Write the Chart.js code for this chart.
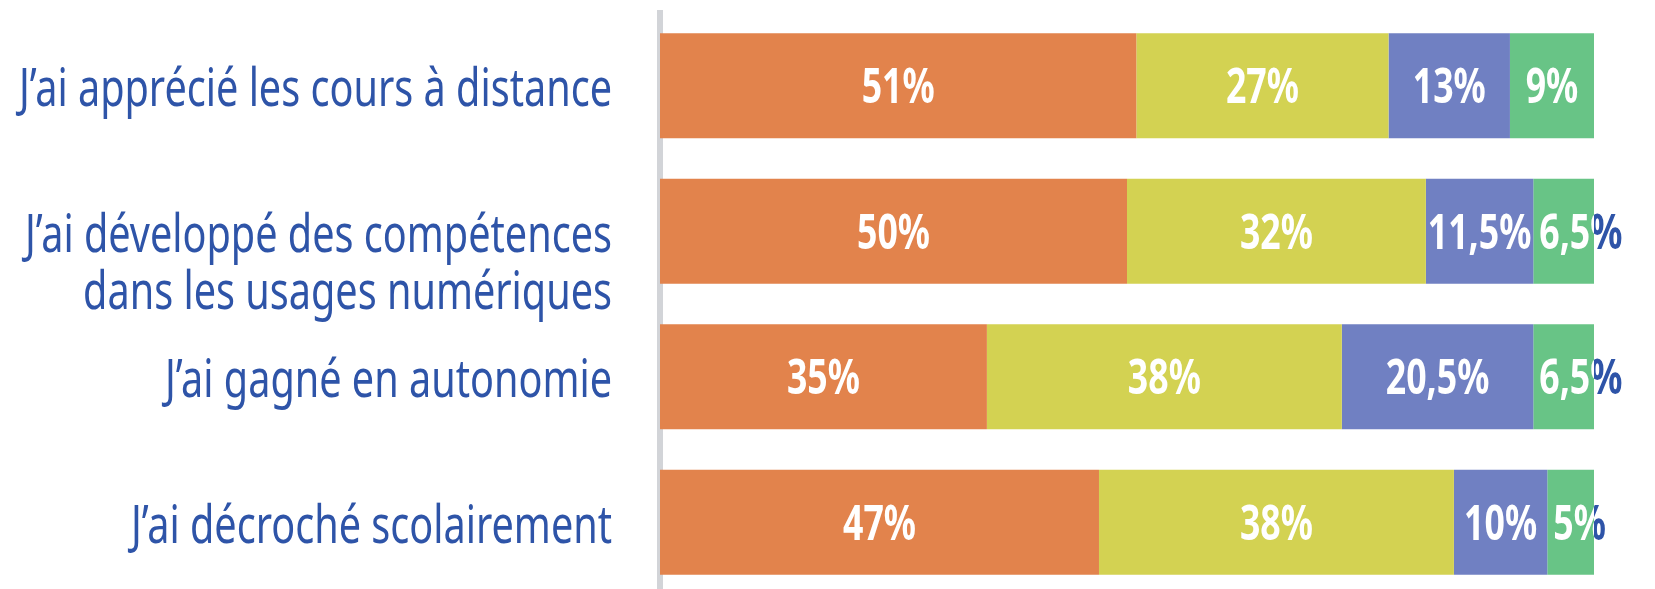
<!DOCTYPE html>
<html>
<head>
<meta charset="utf-8">
<script src="https://cdn.jsdelivr.net/npm/chart.js@4.4.1/dist/chart.umd.min.js"></script>
<style>
  html, body { margin: 0; padding: 0; background: #fff; overflow: hidden; }
</style>
</head>
<body>
<canvas id="chart" width="1655" height="596"></canvas>
<script>
// Categories (y axis) and the four stacked series, in percent
const categories = [
  "J’ai apprécié les cours à distance",
  ["J’ai développé des compétences", "dans les usages numériques"],
  "J’ai gagné en autonomie",
  "J’ai décroché scolairement"
];
const seriesOrange = [51, 50, 35, 47];
const seriesYellow = [27, 32, 38, 38];
const seriesBlue = [13, 11.5, 20.5, 10];
const seriesGreen = [9, 6.5, 6.5, 5];
const xRange = [0, 100];

const COLORS = {
  orange: '#e2834c',
  yellow: '#d3d252',
  blue: '#7080c2',
  green: '#68c486',
  text: '#2e54a8',
  axis: '#d2d4d8'
};
const FONT = '"Noto Sans", "Open Sans", sans-serif';

// The original uses a condensed face; we squeeze Noto Sans horizontally
const LABEL_FONT = '52px ' + FONT;
const LABEL_CAP = 37;        // cap height of the category text
const LABEL_LINE = 57;       // distance between lines of a wrapped label
const LABEL_GAP = 48;        // gap between label right edge and the axis
const LABEL_REF_WIDTH = 593; // width of the first label in the original

const VALUE_FONT = 'bold 49px ' + FONT;
const VALUE_CAP = 35;
const VALUE_REF_WIDTH = 73;  // width of "35%" in the original

/**
 * Format a value the French way: 11.5 -> "11,5%"
 * @param {number} v - value
 * @returns {string}
 */
function fmt(v) {
  return String(v).replace('.', ',') + '%';
}

/**
 * Fill text squeezed horizontally by factor sx, anchored at (x, y)
 */
function fillSqueezed(ctx, text, x, y, sx) {
  ctx.save();
  ctx.translate(x, y);
  ctx.scale(sx, 1);
  ctx.fillText(text, 0, 0);
  ctx.restore();
}

// Category labels, placed on the y scale ticks
const categoryLabels = {
  id: 'categoryLabels',
  afterDraw(chart) {
    const scale = chart.scales.y;
    const ctx = chart.ctx;
    ctx.save();
    ctx.font = LABEL_FONT;
    ctx.fillStyle = COLORS.text;
    ctx.textAlign = 'right';
    ctx.textBaseline = 'alphabetic';
    const sx = LABEL_REF_WIDTH / ctx.measureText(categories[0]).width;
    const xRight = scale.right - LABEL_GAP;
    categories.forEach((label, i) => {
      const lines = [].concat(label);
      const yBase = scale.getPixelForTick(i) + LABEL_CAP / 2 + 2;
      lines.forEach((line, j) => {
        fillSqueezed(ctx, line, xRight, yBase + j * LABEL_LINE, sx);
      });
    });
    ctx.restore();
  }
};

// Draws the value inside each segment; the part that runs past the
// bar end is painted blue, the rest white.
const valueLabels = {
  id: 'valueLabels',
  afterDatasetsDraw(chart) {
    const ctx = chart.ctx;
    const area = chart.chartArea;
    ctx.save();
    ctx.font = VALUE_FONT;
    ctx.textBaseline = 'alphabetic';
    ctx.textAlign = 'left';
    const sx = VALUE_REF_WIDTH / ctx.measureText('35%').width;
    chart.data.datasets.forEach((ds, di) => {
      chart.getDatasetMeta(di).data.forEach((bar, i) => {
        const text = fmt(ds.data[i]);
        const w = ctx.measureText(text).width * sx;
        const segW = bar.x - bar.base;
        let x = (bar.x + bar.base) / 2 - w / 2;
        if (w > segW) {
          x = bar.base + 6;
        }
        const y = bar.y + VALUE_CAP / 2;

        ctx.save();
        ctx.beginPath();
        ctx.rect(0, 0, area.right, chart.height);
        ctx.clip();
        ctx.fillStyle = '#ffffff';
        fillSqueezed(ctx, text, x, y, sx);
        ctx.restore();

        ctx.save();
        ctx.beginPath();
        ctx.rect(area.right, 0, chart.width - area.right, chart.height);
        ctx.clip();
        ctx.fillStyle = COLORS.text;
        fillSqueezed(ctx, text, x, y, sx);
        ctx.restore();
      });
    });
    ctx.restore();
  }
};

function makeDataset(label, data, color) {
  return {
    label: label,
    data: data,
    backgroundColor: color,
    borderWidth: 0,
    barPercentage: 0.72,
    categoryPercentage: 1
  };
}

const ctx = document.getElementById('chart').getContext('2d');
new Chart(ctx, {
  type: 'bar',
  data: {
    labels: categories,
    datasets: [
      makeDataset('A', seriesOrange, COLORS.orange),
      makeDataset('B', seriesYellow, COLORS.yellow),
      makeDataset('C', seriesBlue, COLORS.blue),
      makeDataset('D', seriesGreen, COLORS.green)
    ]
  },
  options: {
    indexAxis: 'y',
    responsive: false,
    animation: false,
    layout: { padding: { top: 13, bottom: 1, left: 0, right: 61 } },
    scales: {
      x: {
        stacked: true,
        min: xRange[0],
        max: xRange[1],
        display: false
      },
      y: {
        stacked: true,
        grid: { display: false, drawTicks: false },
        border: { display: true, color: COLORS.axis, width: 6 },
        ticks: { display: false },
        afterFit(scale) {
          scale.width = 660;
          scale.paddingTop = 0;
          scale.paddingBottom = 0;
        }
      }
    },
    plugins: {
      legend: { display: false },
      tooltip: { enabled: false }
    }
  },
  plugins: [categoryLabels, valueLabels]
});
</script>
</body>
</html>
